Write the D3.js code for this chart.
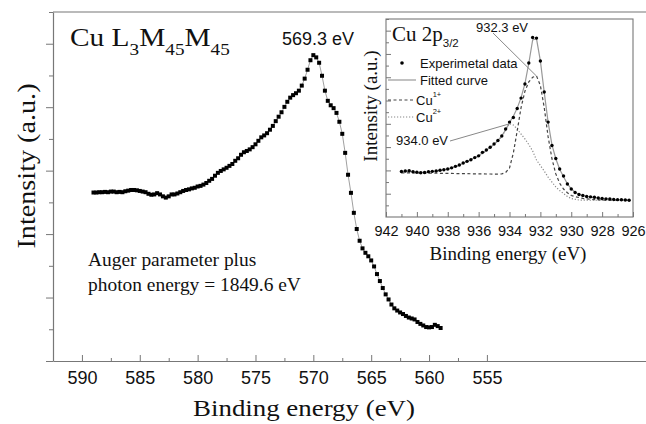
<!DOCTYPE html>
<html><head><meta charset="utf-8">
<script src="https://cdn.jsdelivr.net/npm/d3@7"></script>
<style>body{margin:0;background:#fff}svg{display:block}</style>
</head><body>
<svg id="c" width="646" height="424"></svg>
<script>
// ---------- DATA ----------
// Main Auger spectrum: binding energy grid starts at 589.0 eV, 0.25 eV steps downward
const mainStartEnergy = 589.0;
const mainEnergyStep = 0.25;
const mainIntensity = [
  5.31,5.31,5.32,5.32,5.33,5.32,5.34,5.34,5.32,5.33,
  5.32,5.35,5.37,5.39,5.39,5.38,5.36,5.34,5.32,5.27,
  5.24,5.25,5.29,5.25,5.19,5.15,5.19,5.25,5.25,5.28,
  5.32,5.36,5.39,5.41,5.44,5.46,5.50,5.52,5.56,5.61,
  5.68,5.74,5.84,5.93,5.99,6.04,6.09,6.15,6.21,6.31,
  6.39,6.50,6.58,6.62,6.67,6.74,6.83,6.94,7.05,7.11,
  7.18,7.29,7.41,7.56,7.70,7.84,8.01,8.17,8.30,8.38,
  8.44,8.52,8.68,8.90,9.18,9.48,9.64,9.57,9.40,8.99,
  8.52,8.20,8.06,7.97,7.82,7.54,7.16,6.56,5.87,5.30,
  4.67,4.16,3.79,3.55,3.41,3.30,3.17,2.98,2.74,2.52,
  2.30,2.10,1.94,1.78,1.66,1.59,1.53,1.48,1.42,1.37,
  1.34,1.31,1.23,1.17,1.12,1.07,1.06,1.07,1.14,1.10,
  1.04
];
const mainTickLabels = [590,585,580,575,570,565,560,555];

// Inset Cu 2p3/2 spectrum: grid starts at 941.0 eV, 0.25 eV steps downward
const insetStartEnergy = 941.0;
const insetEnergyStep = 0.25;
const insetExperimental = [
  3.91,3.95,3.97,3.88,3.84,3.80,3.82,3.88,3.92,3.95,
  4.01,4.06,4.12,4.22,4.35,4.46,4.64,4.78,4.92,5.10,
  5.25,5.55,5.75,5.99,6.27,6.57,6.95,7.55,8.15,8.54,
  9.31,10.21,11.42,13.22,15.41,15.36,13.39,10.73,8.15,6.14,
  5.02,4.12,3.52,2.83,2.40,2.10,1.93,1.85,1.76,1.73,
  1.69,1.63,1.59,1.56,1.55,1.50,1.49,1.48,1.46,1.44
];
const insetFitted = [
  3.92,3.93,3.92,3.89,3.86,3.84,3.84,3.86,3.90,3.95,
  4.00,4.06,4.13,4.22,4.33,4.46,4.61,4.77,4.93,5.10,
  5.28,5.50,5.73,5.98,6.26,6.58,6.96,7.48,8.12,8.65,
  9.35,10.25,11.45,13.2,15.2,15.3,13.4,10.7,8.15,6.2,
  5.0,4.1,3.45,2.85,2.42,2.12,1.94,1.84,1.76,1.71,
  1.67,1.63,1.59,1.56,1.54,1.51,1.49,1.48,1.47,1.46
];
const insetCu1 = [
  3.78,3.78,3.78,3.78,3.78,3.77,3.77,3.77,3.76,3.76,
  3.75,3.75,3.74,3.74,3.73,3.73,3.72,3.72,3.71,3.71,
  3.70,3.70,3.69,3.69,3.68,3.68,3.70,3.82,4.20,5.50,
  7.40,9.40,10.80,11.60,12.00,12.10,11.30,9.40,6.90,5.00,
  3.70,2.90,2.40,2.08,1.85,1.75,1.67,1.60,1.55,1.52,
  1.49,1.47,1.46,1.45,1.45,1.44,1.44,1.44,1.44,1.44
];
const insetCu2 = [
  3.88,3.90,3.90,3.86,3.83,3.80,3.80,3.84,3.88,3.93,
  3.98,4.04,4.10,4.20,4.32,4.45,4.60,4.75,4.90,5.06,
  5.22,5.46,5.72,5.96,6.22,6.52,6.90,7.50,8.00,7.90,
  7.55,7.12,6.70,6.22,5.67,4.89,4.42,3.95,3.43,3.00,
  2.58,2.27,2.02,1.76,1.59,1.52,1.46,1.45,1.44,1.44,
  1.44,1.44,1.44,1.44,1.44,1.44,1.44,1.44,1.44,1.44
];
const insetTickLabels = [942,940,938,936,934,932,930,928,926];
const insetLegend = ["Experimetal data","Fitted curve","Cu","Cu"];

// ---------- DRAW ----------
const svg = d3.select("#c");
const SANS = "'Liberation Sans', Arial, Helvetica, sans-serif";
const SERIF = "'Liberation Serif', 'Times New Roman', Times, serif";
const AX = "#777";

const mainData = mainIntensity.map((v,i)=>({e: mainStartEnergy - i*mainEnergyStep, v}));
const x = d3.scaleLinear().domain([592.5, 541.25]).range([53, 646]);
const y = d3.scaleLinear().domain([0, 11]).range([361, 12]);

// top frame line
svg.append("line").attr("x1",53).attr("x2",646).attr("y1",y(11)).attr("y2",y(11))
  .attr("stroke",AX).attr("stroke-width",1.2);

// x axis
const gx = svg.append("g").attr("transform",`translate(0,${y(0)})`)
  .call(d3.axisBottom(x).tickValues(mainTickLabels).tickSize(-6).tickSizeOuter(0).tickPadding(10));
gx.select(".domain").attr("stroke",AX).attr("stroke-width",1.2);
gx.selectAll(".tick line").attr("stroke",AX);
gx.selectAll(".tick text").attr("font-family",SANS).attr("font-size",18).attr("fill","#111");
const gxm = svg.append("g").attr("transform",`translate(0,${y(0)})`)
  .call(d3.axisBottom(x).tickValues(d3.range(587.5,555,-5)).tickSize(-3).tickFormat(""));
gxm.select(".domain").remove();
gxm.selectAll(".tick line").attr("stroke",AX);

// y axis
const gy = svg.append("g").attr("transform","translate(53,0)")
  .call(d3.axisLeft(y).tickValues([0,2,4,6,8,10]).tickSize(7).tickSizeOuter(0).tickFormat(""));
gy.select(".domain").attr("stroke",AX).attr("stroke-width",1.2);
gy.selectAll(".tick line").attr("stroke",AX);
const gym = svg.append("g").attr("transform","translate(53,0)")
  .call(d3.axisLeft(y).tickValues([1,3,5,7,9,11]).tickSize(4).tickFormat(""));
gym.select(".domain").remove();
gym.selectAll(".tick line").attr("stroke",AX);

// main curve
svg.append("path").datum(mainData)
  .attr("d", d3.line().x(d=>x(d.e)).y(d=>y(d.v)))
  .attr("fill","none").attr("stroke","#888").attr("stroke-width",0.8);
svg.append("g").selectAll("rect").data(mainData).join("rect")
  .attr("x",d=>x(d.e)-2).attr("y",d=>y(d.v)-2)
  .attr("width",4).attr("height",4).attr("fill","#000");

// titles / annotations main
svg.append("text").attr("transform","translate(304,416) scale(1.12,1)")
  .attr("text-anchor","middle").attr("font-family",SERIF).attr("font-size",24).attr("fill","#111")
  .text("Binding energy (eV)");
svg.append("text").attr("transform","translate(35,166) rotate(-90) scale(1.15,1)")
  .attr("text-anchor","middle").attr("font-family",SERIF).attr("font-size",24.5).attr("fill","#111")
  .text("Intensity (a.u.)");

const title = svg.append("text").attr("transform","translate(70,46) scale(1.13,1)")
  .attr("font-family",SERIF).attr("font-size",26).attr("fill","#111");
title.append("tspan").text("Cu L");
title.append("tspan").attr("dy",9).attr("font-size",17).text("3");
title.append("tspan").attr("dy",-9).text("M");
title.append("tspan").attr("dy",9).attr("font-size",17).text("45");
title.append("tspan").attr("dy",-9).text("M");
title.append("tspan").attr("dy",9).attr("font-size",17).text("45");

svg.append("text").attr("x",282).attr("y",45).attr("font-family",SANS).attr("font-size",18)
  .attr("fill","#111").text("569.3 eV");

const aug = svg.append("text").attr("transform","translate(88,266) scale(1.08,1)")
  .attr("font-family",SERIF).attr("font-size",18).attr("fill","#111");
aug.append("tspan").attr("x",0).attr("y",0).text("Auger parameter plus");
aug.append("tspan").attr("x",0).attr("y",25).text("photon energy = 1849.6 eV");

// ---------- INSET ----------
const xi = d3.scaleLinear().domain([942, 926]).range([386, 633]);
const yi = d3.scaleLinear().domain([0, 17]).range([217, 19]);
const mk = arr => arr.map((v,i)=>({e: insetStartEnergy - i*insetEnergyStep, v}));
const expD = mk(insetExperimental), fitD = mk(insetFitted), c1D = mk(insetCu1), c2D = mk(insetCu2);

svg.append("rect").attr("x",386).attr("y",19).attr("width",633-386).attr("height",217-19)
  .attr("fill","#fff").attr("stroke",AX).attr("stroke-width",1.1);

const gix = svg.append("g").attr("transform","translate(0,217)")
  .call(d3.axisBottom(xi).tickValues(insetTickLabels).tickSize(-5).tickSizeOuter(0).tickPadding(9));
gix.select(".domain").remove();
gix.selectAll(".tick line").attr("stroke",AX);
gix.selectAll(".tick text").attr("font-family",SANS).attr("font-size",14.5).attr("fill","#111");
const gixm = svg.append("g").attr("transform","translate(0,217)")
  .call(d3.axisBottom(xi).tickValues(d3.range(941,926,-2)).tickSize(-3).tickFormat(""));
gixm.select(".domain").remove();
gixm.selectAll(".tick line").attr("stroke",AX);

const giy = svg.append("g").attr("transform","translate(386,0)")
  .call(d3.axisLeft(yi).tickValues(d3.range(2,17,2)).tickSize(-5).tickFormat(""));
giy.select(".domain").remove();
giy.selectAll(".tick line").attr("stroke",AX);
const giym = svg.append("g").attr("transform","translate(386,0)")
  .call(d3.axisLeft(yi).tickValues(d3.range(1,18,2)).tickSize(-3).tickFormat(""));
giym.select(".domain").remove();
giym.selectAll(".tick line").attr("stroke",AX);

const li = d3.line().x(d=>xi(d.e)).y(d=>yi(d.v));
svg.append("path").datum(c2D).attr("d",li).attr("fill","none")
  .attr("stroke","#888").attr("stroke-width",1.2).attr("stroke-dasharray","1.2,1.8");
svg.append("path").datum(c1D).attr("d",li).attr("fill","none")
  .attr("stroke","#444").attr("stroke-width",1.2).attr("stroke-dasharray","3,2.5");
svg.append("path").datum(fitD).attr("d",li).attr("fill","none")
  .attr("stroke","#999").attr("stroke-width",1.2);
svg.append("g").selectAll("circle").data(expD).join("circle")
  .attr("cx",d=>xi(d.e)).attr("cy",d=>yi(d.v)).attr("r",1.7).attr("fill","#000");

// inset titles
svg.append("text").attr("x",508).attr("y",260).attr("text-anchor","middle")
  .attr("font-family",SERIF).attr("font-size",19).attr("fill","#111").text("Binding energy (eV)");
svg.append("text").attr("transform","translate(377,106) rotate(-90)").attr("text-anchor","middle")
  .attr("font-family",SERIF).attr("font-size",19).attr("fill","#111").text("Intensity (a.u.)");
const it = svg.append("text").attr("x",392).attr("y",41).attr("font-family",SERIF)
  .attr("font-size",21).attr("fill","#111");
it.append("tspan").text("Cu 2p");
it.append("tspan").attr("font-family",SANS).attr("font-size",11.5).attr("dy",6).text("3/2");

// peak labels and leaders
const peak1 = c1D[d3.maxIndex(c1D, d=>d.v)];
const peak2 = c2D[d3.maxIndex(c2D, d=>d.v)];
svg.append("line").attr("x1",493).attr("y1",33).attr("x2",xi(peak1.e)).attr("y2",yi(peak1.v))
  .attr("stroke","#888").attr("stroke-width",1);
svg.append("line").attr("x1",450).attr("y1",141).attr("x2",xi(peak2.e)).attr("y2",yi(peak2.v))
  .attr("stroke","#888").attr("stroke-width",1);
svg.append("text").attr("x",476).attr("y",31.5).attr("font-family",SANS).attr("font-size",13)
  .attr("fill","#111").text("932.3 eV");
svg.append("text").attr("x",396).attr("y",145).attr("font-family",SANS).attr("font-size",13)
  .attr("fill","#111").text("934.0 eV");

// legend
const lg = svg.append("g").attr("font-family",SANS).attr("font-size",13).attr("fill","#111");
lg.append("circle").attr("cx",402).attr("cy",63).attr("r",1.8).attr("fill","#000");
lg.append("text").attr("x",420).attr("y",67.5).text(insetLegend[0]);
lg.append("line").attr("x1",388).attr("x2",416).attr("y1",80).attr("y2",80)
  .attr("stroke","#999").attr("stroke-width",1.2);
lg.append("text").attr("x",420).attr("y",84.5).text(insetLegend[1]);
lg.append("line").attr("x1",388).attr("x2",414).attr("y1",100).attr("y2",100)
  .attr("stroke","#444").attr("stroke-width",1.2).attr("stroke-dasharray","3,2.5");
const t1 = lg.append("text").attr("x",416).attr("y",104.5);
t1.append("tspan").text(insetLegend[2]);
t1.append("tspan").attr("dy",-8).attr("font-size",7.5).text("1+");
lg.append("line").attr("x1",388).attr("x2",414).attr("y1",117).attr("y2",117)
  .attr("stroke","#888").attr("stroke-width",1.2).attr("stroke-dasharray","1.2,1.8");
const t2 = lg.append("text").attr("x",416).attr("y",121.5);
t2.append("tspan").text(insetLegend[3]);
t2.append("tspan").attr("dy",-8).attr("font-size",7.5).text("2+");
</script>
</body></html>
